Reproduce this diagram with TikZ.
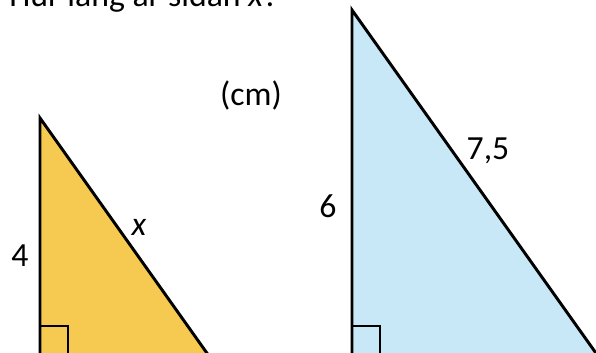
\documentclass[tikz,border=0pt]{standalone}
\usepackage{fontspec}
\setmainfont{Carlito}
\usepackage{xcolor}
\usepackage{tikz}
\usetikzlibrary{calc,positioning}

\definecolor{geel}{RGB}{246,202,80}
\definecolor{blauw}{RGB}{200,232,248}

\tikzset{
    zijde/.style={line width=2.1pt, line join=miter},
    hoek/.style={line width=1.2pt},
    label/.style={inner sep=0pt, anchor=base, font=\fontsize{24}{28}\selectfont}
}

\begin{document}
\begin{tikzpicture}[x=0.025cm, y=-0.025cm]

    % Kader
    \useasboundingbox (0,0) rectangle (596,353);
    \clip (0,0) rectangle (596,353);

    % Vraag
    \node[label, anchor=base west] (vraag) at (9,7) {Hur lång är sidan \textit{x}?};
    \node[label] (eenheid) at (251,106) {(cm)};

    % Gele driehoek
    \coordinate (A) at (40,118);
    \coordinate (B) at (40,356);
    \coordinate (C) at (209,356);
    \draw[zijde, fill=geel] (A) -- (B) -- (C) -- cycle;
    \draw[hoek] (40,326) -| (68,356);
    \node[label] (vier) at (20,266) {4};
    \node[label] (x) at (139,235) {\textit{x}};

    % Blauwe driehoek
    \coordinate (D) at (352,10);
    \coordinate (E) at (352,356);
    \coordinate (F) at (598,356);
    \draw[zijde, fill=blauw] (D) -- (E) -- (F) -- cycle;
    \draw[hoek] (352,326) -| (380,356);
    \node[label] (zes) at (328,218) {6};
    \node[label] (hyp) at (488,160) {7,5};

\end{tikzpicture}
\end{document}
